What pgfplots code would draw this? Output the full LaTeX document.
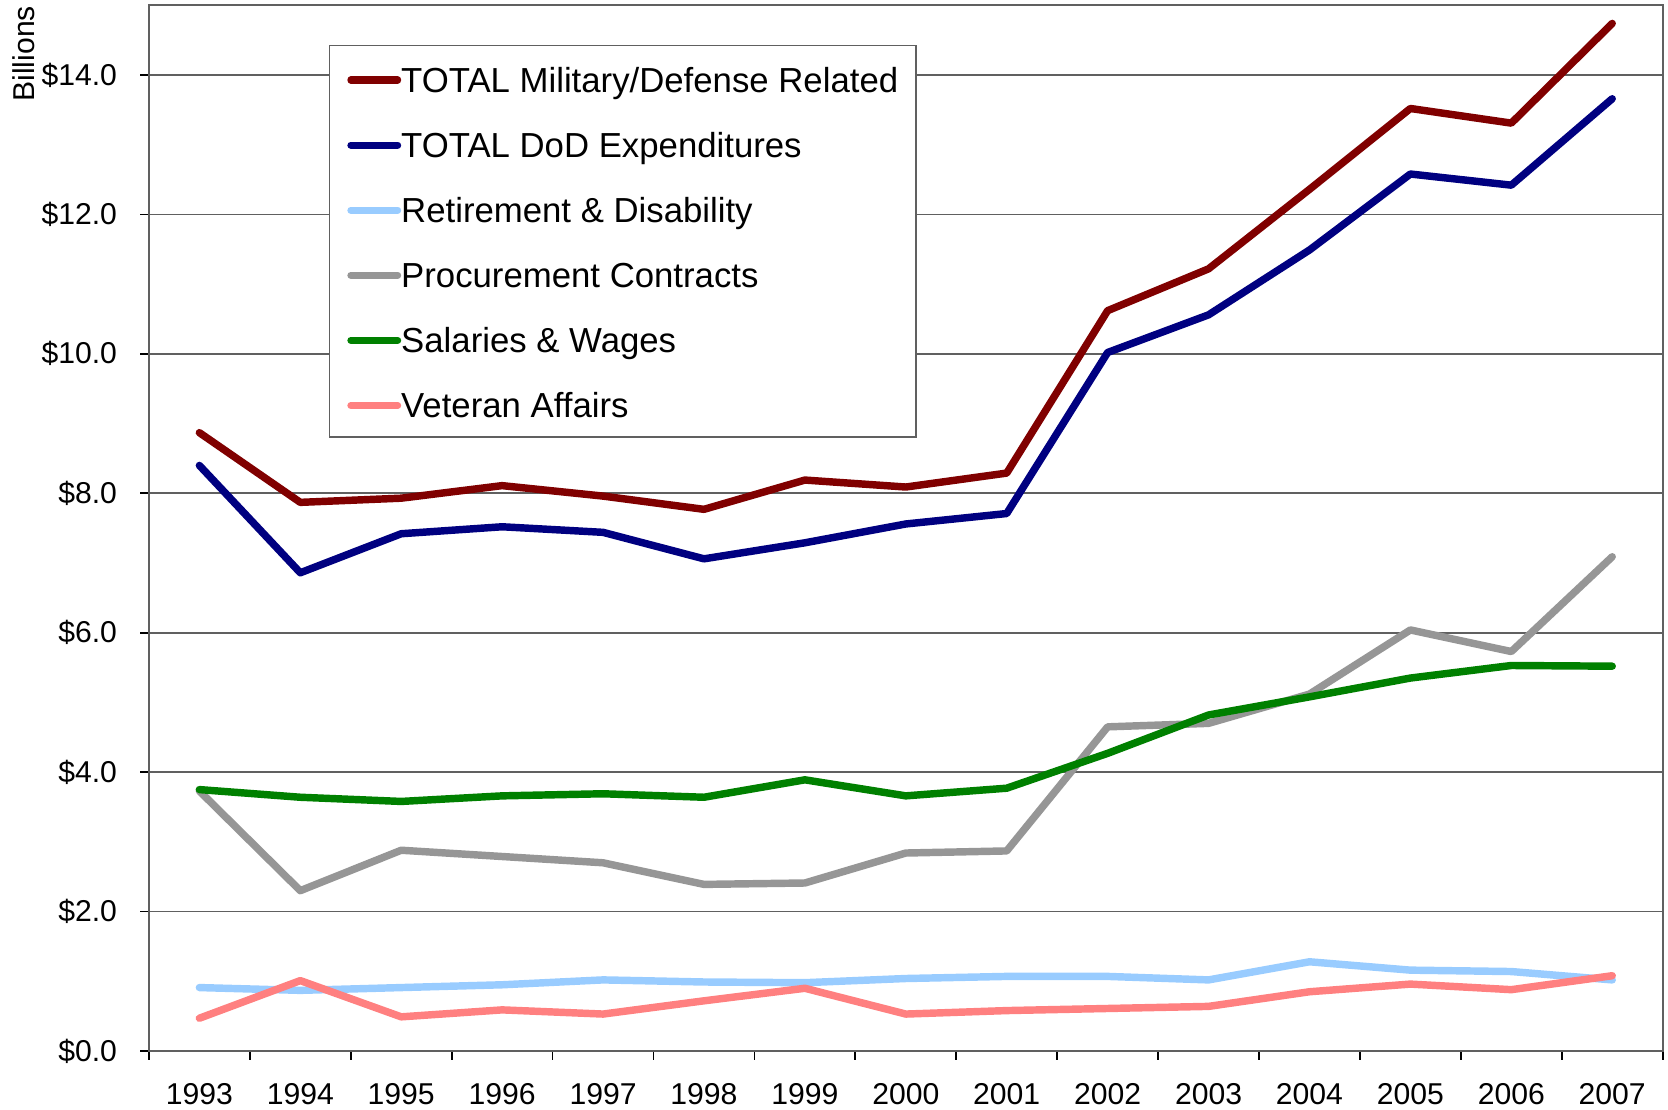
\documentclass[border=0pt]{standalone}
\usepackage{pgfplots}
\pgfplotsset{compat=1.18}
\usepackage{fontspec}
\setmainfont{Liberation Sans}
\usetikzlibrary{calc}
\definecolor{cMil}{HTML}{800000}
\definecolor{cDoD}{HTML}{000080}
\definecolor{cRet}{HTML}{99CCFF}
\definecolor{cProc}{HTML}{969696}
\definecolor{cSal}{HTML}{008000}
\definecolor{cVet}{HTML}{FF8080}
\definecolor{gridc}{HTML}{606060}
\begin{document}
\begin{tikzpicture}
\begin{axis}[
  scale only axis,
  width=426.9pt, height=294.9pt,
  xmin=-0.5, xmax=14.5, ymin=0, ymax=15,
  xtick={0,...,14},
  xticklabels={1993,1994,1995,1996,1997,1998,1999,2000,2001,2002,2003,2004,2005,2006,2007},
  minor xtick={-0.5,0.5,...,14.5},
  ytick={0,2,...,14},
  yticklabels={\$0.0,\$2.0,\$4.0,\$6.0,\$8.0,\$10.0,\$12.0,\$14.0},
  tick pos=left,
  tick align=outside,
  major tick length=2.4pt,
  minor tick length=2.4pt,
  x tick style={draw=none},
  minor x tick style={draw=black, line width=0.5pt},
  y tick style={draw=black, line width=0.5pt},
  ymajorgrids,
  major grid style={draw=gridc, line width=0.5pt},
  axis line style={draw=gridc, line width=0.6pt},
  tick label style={font=\fontsize{8.5}{10}\selectfont},
  xticklabel style={anchor=north, inner sep=0pt, yshift=-6.6pt},
  yticklabel style={anchor=east, inner sep=0pt, xshift=-6.4pt},
  legend cell align=left,
  legend style={
    at={(rel axis cs:0,1)}, anchor=north west,
    xshift=50.7pt, yshift=-11.1pt,
    draw=gridc, line width=0.5pt,
    font=\fontsize{9.8}{11}\selectfont,
    nodes={inner sep=0pt, text height=8.8pt, text depth=1pt},
    row sep=8.56pt,
    column sep=0pt,
    inner xsep=5pt, inner ysep=4.4pt,
  },
  legend image code/.code={\draw[#1, line width=2pt, line cap=round] (0pt,-0.4pt) -- (13.2pt,-0.4pt);},
  every axis plot/.append style={line width=2.1pt, line join=round, line cap=round, mark=none},
  clip=false,
]
\addplot[cMil] coordinates {(0,8.87)(1,7.87)(2,7.93)(3,8.11)(4,7.96)(5,7.77)(6,8.19)(7,8.09)(8,8.29)(9,10.62)(10,11.22)(11,12.36)(12,13.52)(13,13.31)(14,14.74)};
\addlegendentry{TOTAL Military/Defense Related}
\addplot[cDoD] coordinates {(0,8.40)(1,6.86)(2,7.42)(3,7.52)(4,7.44)(5,7.06)(6,7.29)(7,7.56)(8,7.71)(9,10.02)(10,10.56)(11,11.49)(12,12.58)(13,12.42)(14,13.66)};
\addlegendentry{TOTAL DoD Expenditures}
\addplot[cRet] coordinates {(0,0.91)(1,0.87)(2,0.91)(3,0.95)(4,1.02)(5,0.99)(6,0.98)(7,1.04)(8,1.07)(9,1.07)(10,1.02)(11,1.28)(12,1.16)(13,1.14)(14,1.02)};
\addlegendentry{Retirement \& Disability}
\addplot[cProc] coordinates {(0,3.73)(1,2.30)(2,2.88)(3,2.79)(4,2.70)(5,2.39)(6,2.41)(7,2.84)(8,2.87)(9,4.65)(10,4.70)(11,5.12)(12,6.04)(13,5.73)(14,7.09)};
\addlegendentry{Procurement Contracts}
\addplot[cSal] coordinates {(0,3.75)(1,3.64)(2,3.58)(3,3.66)(4,3.69)(5,3.64)(6,3.89)(7,3.66)(8,3.77)(9,4.27)(10,4.82)(11,5.08)(12,5.35)(13,5.53)(14,5.52)};
\addlegendentry{Salaries \& Wages}
\addplot[cVet] coordinates {(0,0.47)(1,1.01)(2,0.49)(3,0.59)(4,0.53)(5,0.72)(6,0.90)(7,0.53)(8,0.58)(9,0.61)(10,0.64)(11,0.85)(12,0.96)(13,0.88)(14,1.08)};
\addlegendentry{Veteran Affairs}
\node[rotate=90, anchor=south east, inner sep=0pt, font=\fontsize{8.5}{10}\selectfont] at ([xshift=-32.1pt]rel axis cs:0,1) {Billions};
\end{axis}
\pgfresetboundingbox
\path ($(current axis.south west)+(-42pt,-16.5pt)$) rectangle ($(current axis.north east)+(1.5pt,1.5pt)$);
\end{tikzpicture}
\end{document}
